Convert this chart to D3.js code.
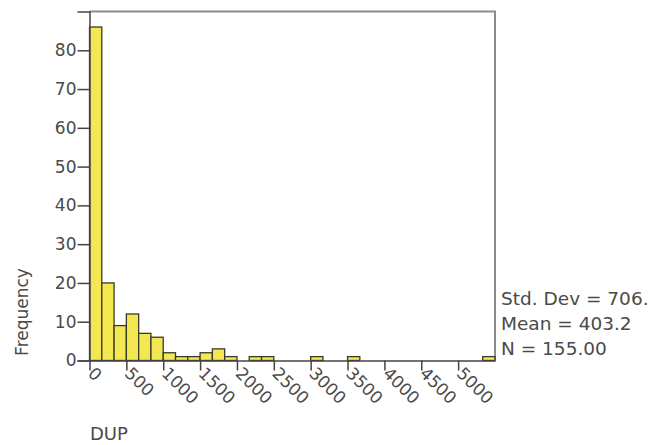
<!DOCTYPE html>
<html>
<head>
<meta charset="utf-8">
<script src="https://cdn.jsdelivr.net/npm/d3@7"></script>
<style>
  body { margin: 0; background: #fff; }
  text { font-family: "DejaVu Sans", Verdana, sans-serif; fill: #4a4a4a; }
</style>
</head>
<body>
<div class="canvas"></div>
<script>
// histogram of DUP, bins of 5500/33 starting at 0
const counts = [86, 20, 9, 12, 7, 6, 2, 1, 1, 2, 3, 1, 0, 1, 1, 0, 0, 0, 1, 0, 0, 1,
                0, 0, 0, 0, 0, 0, 0, 0, 0, 0, 1];
const xMax = 5500;
const yMax = 90;
const xTicks = [0, 500, 1000, 1500, 2000, 2500, 3000, 3500, 4000, 4500, 5000];
const yTicks = [0, 10, 20, 30, 40, 50, 60, 70, 80];
const stats = ['Std. Dev = 706.', 'Mean = 403.2', 'N = 155.00'];

const svg = d3.select('.canvas')
    .append('svg')
    .attr('width', 652)
    .attr('height', 445);

const plot = {left: 89.5, right: 495, top: 11.5, bottom: 360.5};

const x = d3.scaleLinear().domain([0, xMax]).range([plot.left, plot.right]);
const y = d3.scaleLinear().domain([0, yMax]).range([plot.bottom, plot.top]);
const binW = xMax / counts.length;

// frame top / right
svg.append('path')
    .attr('d', `M${plot.left},${plot.top}H${plot.right}V${plot.bottom}`)
    .attr('fill', 'none')
    .attr('stroke', '#8c8c8c')
    .attr('stroke-width', 2);

// bars
svg.append('g').selectAll('rect')
    .data(counts.map((c, i) => ({i, c})).filter(d => d.c > 0))
    .enter().append('rect')
    .attr('x', d => x(d.i * binW))
    .attr('y', d => y(d.c))
    .attr('width', d => x((d.i + 1) * binW) - x(d.i * binW))
    .attr('height', d => y(0) - y(d.c))
    .attr('fill', '#f3e752')
    .attr('stroke', '#3a3a2a')
    .attr('stroke-width', 1.3);

// axes
const yAxis = d3.axisLeft(y).tickValues(yTicks).tickSize(12).tickPadding(1).tickFormat(d3.format('d'));
const yAxisGroup = svg.append('g').attr('transform', `translate(${plot.left},0)`).call(yAxis);
yAxisGroup.select('.domain').attr('stroke', '#444').attr('stroke-width', 1.5);
yAxisGroup.selectAll('.tick line').attr('stroke', '#444').attr('stroke-width', 1.5);
yAxisGroup.selectAll('.tick text')
    .attr('font-size', 17).attr('fill', '#4a4a4a')
    .style('font-family', '"DejaVu Sans", Verdana, sans-serif');

const xAxis = d3.axisBottom(x).tickValues(xTicks).tickSize(10).tickSizeOuter(0).tickFormat(d3.format('d'));
const xAxisGroup = svg.append('g').attr('transform', `translate(0,${plot.bottom})`).call(xAxis);
xAxisGroup.select('.domain').attr('stroke', '#444').attr('stroke-width', 1.5);
xAxisGroup.selectAll('.tick line').attr('stroke', '#444').attr('stroke-width', 1.5);
xAxisGroup.selectAll('.tick text')
    .attr('font-size', 17).attr('fill', '#4a4a4a')
    .style('font-family', '"DejaVu Sans", Verdana, sans-serif')
    .attr('text-anchor', 'start')
    .attr('x', 0).attr('y', 0).attr('dy', 0)
    .attr('transform', 'translate(-3,14) rotate(45)');

// axis titles
svg.append('text')
    .attr('transform', 'translate(28,312) rotate(-90)')
    .attr('text-anchor', 'middle')
    .attr('font-size', 17)
    .text('Frequency');

svg.append('text')
    .attr('x', 90).attr('y', 440)
    .attr('font-size', 18)
    .text('DUP');

// summary stats
svg.append('g').selectAll('text')
    .data(stats)
    .enter().append('text')
    .attr('x', 501)
    .attr('y', (d, i) => 305 + i * 25)
    .attr('font-size', 18.5)
    .text(d => d);
</script>
</body>
</html>
